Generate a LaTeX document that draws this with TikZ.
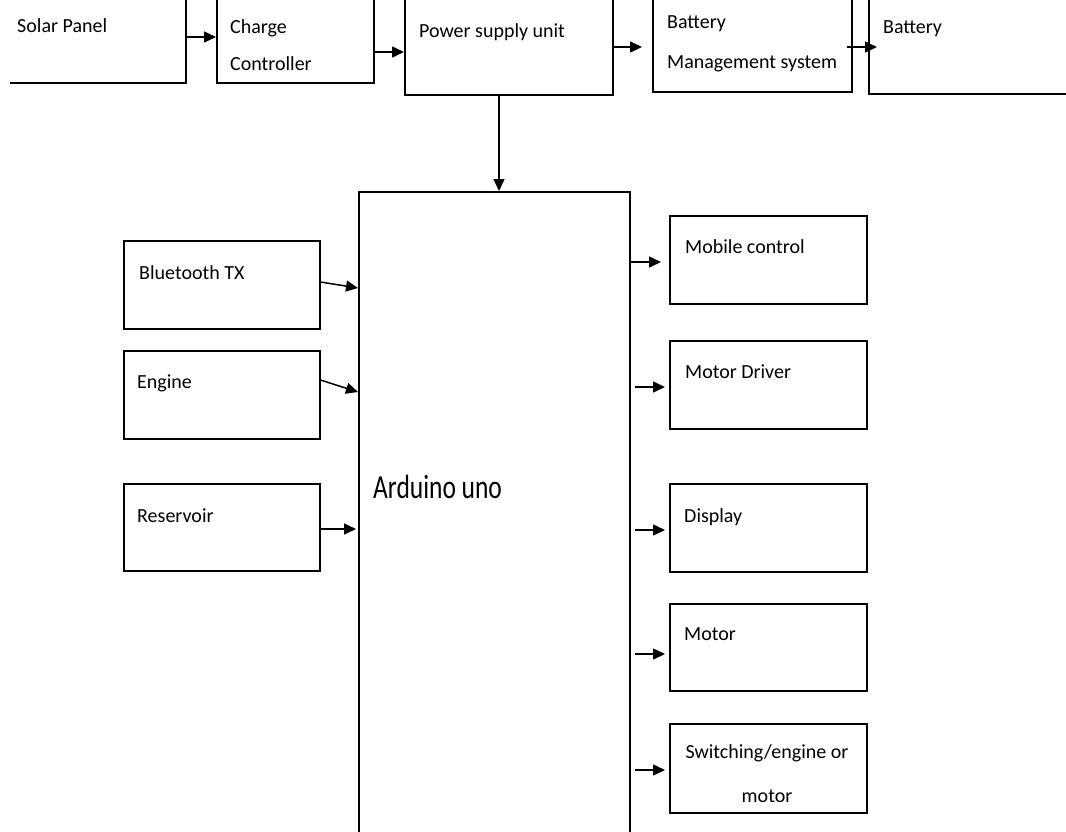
\documentclass[tikz,border=0pt]{standalone}
\usepackage{fontspec}
\setmainfont{Carlito}
\usetikzlibrary{arrows.meta}
\begin{document}
\begin{tikzpicture}[x=1pt,y=-1pt,
  box/.style={draw=black, line width=1.5pt, inner sep=0pt, anchor=north west},
  lbl/.style={inner sep=0pt, anchor=base west, font=\fontsize{20}{24}\selectfont},
  arr/.style={line width=1.5pt, -{Triangle[length=12pt,width=11pt]}}]
\useasboundingbox (0,0) rectangle (1066,831);
\fill[white] (0,0) rectangle (1066,831);
\clip (10,0) rectangle (1066,831);
% top row
\node[box, minimum width=205pt, minimum height=122pt] (solar) at (-20,-40) {};
\node[box, minimum width=157pt, minimum height=122pt] (charge) at (216,-40) {};
\node[box, minimum width=208pt, minimum height=134pt] (psu) at (404,-40) {};
\node[box, minimum width=199pt, minimum height=131pt] (bms) at (652,-40) {};
\node[box, minimum width=222pt, minimum height=133pt] (battery) at (868,-40) {};
\node[lbl] (solart) at (17,32) {Solar Panel};
\node[lbl] (charget1) at (230,33) {Charge};
\node[lbl] (charget2) at (230,70) {Controller};
\node[lbl] (psut) at (419,37) {Power supply unit};
\node[lbl] (bmst1) at (667,28) {Battery};
\node[lbl] (bmst2) at (667,68) {Management system};
\node[lbl] (batteryt) at (883,33) {Battery};
% arduino
\node[box, minimum width=271pt, minimum height=709pt] (arduino) at (358,191) {};
\node[inner sep=0pt, anchor=base west] (arduinot) at (373,498) {\scalebox{1}[1.32]{\fontsize{25.5}{30}\selectfont Arduino uno}};
% left boxes
\node[box, minimum width=196pt, minimum height=88pt] (bt) at (123,240) {};
\node[box, minimum width=196pt, minimum height=88pt] (engine) at (123,350) {};
\node[box, minimum width=196pt, minimum height=87pt] (res) at (123,483) {};
\node[lbl] (btt) at (139,279) {Bluetooth TX};
\node[lbl] (enginet) at (137,388) {Engine};
\node[lbl] (rest) at (137,522) {Reservoir};
% right boxes
\node[box, minimum width=197pt, minimum height=88pt] (mob) at (669,215) {};
\node[box, minimum width=197pt, minimum height=88pt] (mdrv) at (669,340) {};
\node[box, minimum width=197pt, minimum height=88pt] (disp) at (669,483) {};
\node[box, minimum width=197pt, minimum height=87pt] (motor) at (669,603) {};
\node[box, minimum width=197pt, minimum height=89pt] (sw) at (669,723) {};
\node[lbl] (mobt) at (685,253) {Mobile control};
\node[lbl] (mdrvt) at (685,378) {Motor Driver};
\node[lbl] (dispt) at (684,522) {Display};
\node[lbl] (motort) at (684,640) {Motor};
\node[lbl, anchor=base] (swt1) at (767,758) {Switching/engine or};
\node[lbl, anchor=base] (swt2) at (767,802) {motor};
% top arrows
\draw[arr] (solar.east |- 0,37) -- (charge.west |- 0,37);
\draw[arr] (charge.east |- 0,52) -- (psu.west |- 0,52);
\draw[arr] (psu.east |- 0,47) -- ([xshift=-10pt]bms.west |- 0,47);
\draw[arr] ([xshift=-6pt]bms.east |- 0,47) -- ([xshift=9pt]battery.west |- 0,47);
\draw[arr] (psu.south -| 499,0) -- (arduino.north -| 499,0);
% left arrows
\draw[arr] (bt.east |- 0,282) -- (arduino.west |- 0,288);
\draw[arr] (engine.east |- 0,380) -- (arduino.west |- 0,392);
\draw[arr] (res.east |- 0,529) -- ([xshift=-2pt]arduino.west |- 0,529);
% right arrows
\draw[arr] (arduino.east |- 0,262) -- ([xshift=-8pt]mob.west |- 0,262);
\draw[arr] ([xshift=4pt]arduino.east |- 0,387) -- ([xshift=-4pt]mdrv.west |- 0,387);
\draw[arr] ([xshift=4pt]arduino.east |- 0,530) -- ([xshift=-4pt]disp.west |- 0,530);
\draw[arr] ([xshift=4pt]arduino.east |- 0,654) -- ([xshift=-4pt]motor.west |- 0,654);
\draw[arr] ([xshift=4pt]arduino.east |- 0,770) -- ([xshift=-4pt]sw.west |- 0,770);
\end{tikzpicture}
\end{document}
